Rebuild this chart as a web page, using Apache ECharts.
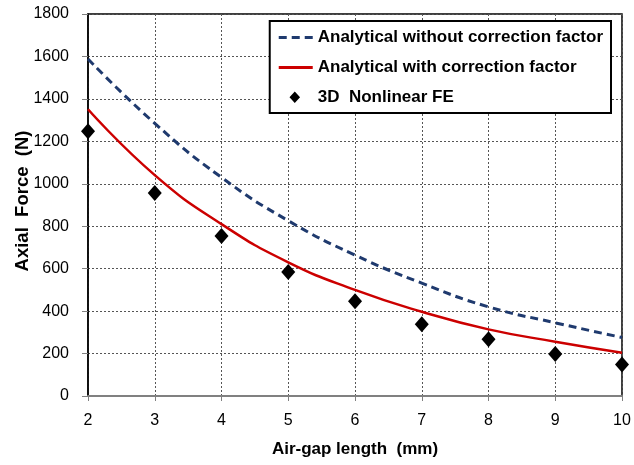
<!DOCTYPE html>
<html><head><meta charset="utf-8">
<script src="https://cdn.jsdelivr.net/npm/echarts@6/dist/echarts.min.js"></script>
<style>html,body{margin:0;padding:0;background:#fff}#c{width:634px;height:465px}</style>
</head><body><div id="c"></div>
<script>
var gaps = [2, 3, 4, 5, 6, 7, 8, 9, 10];
var withoutCorr = [1588, 1285, 1030, 826, 664, 532, 420, 345, 276];
var withCorr = [1351, 1041, 810, 630, 500, 397, 314, 256, 204];
var fe = [1247, 957, 754, 584, 446, 338, 267, 198, 149];
var names = ['Analytical without correction factor', 'Analytical with correction factor', '3D  Nonlinear FE'];
function pairs(v){ return gaps.map(function(g,i){ return [g, v[i]]; }); }
var font = 'Liberation Sans, Arial, sans-serif';
var chart = echarts.init(document.getElementById('c'));
chart.setOption({
  animation: false,
  grid: {left: 88, right: 12, top: 14, bottom: 69, outerBoundsMode: 'none', containLabel: false, show: true, borderColor: '#000', borderWidth: 1.5, backgroundColor: 'transparent'},
  legend: {
    orient: 'vertical', right: 23, top: 21, itemGap: 12, padding: [7, 8, 7, 9],
    backgroundColor: '#fff', borderColor: '#000', borderWidth: 2, borderRadius: 0,
    itemWidth: 34, itemHeight: 12,
    textStyle: {fontFamily: font, fontWeight: 'bold', fontSize: 17, lineHeight: 18, color: '#000'},
    data: [
      {name: names[0], icon: 'path://M0,5h8v3H0z M13,5h8v3h-8z M26,5h8v3h-8z M0,0h0.1v0.1h-0.1z M34,12h-0.1v-0.1h0.1z', itemStyle: {color: '#1f3a6e'}},
      {name: names[1], icon: 'path://M0,5h34v3H0z M0,0h0.1v0.1h-0.1z M34,12h-0.1v-0.1h0.1z', itemStyle: {color: '#cc0000'}},
      {name: names[2], icon: 'path://M16,0.5L21.5,6.5L16,12.5L10.5,6.5z M0,0h0.1v0.1h-0.1z M34,12h-0.1v-0.1h0.1z', itemStyle: {color: '#000'}}
    ]
  },
  xAxis: {
    type: 'value', min: 2, max: 10, interval: 1,
    name: 'Air-gap length  (mm)', nameLocation: 'middle', nameGap: 45, nameMoveOverlap: false,
    nameTextStyle: {fontFamily: font, fontWeight: 'bold', fontSize: 17, color: '#000'},
    axisLine: {lineStyle: {color: '#808080', width: 2}},
    axisTick: {show: true, length: 5, lineStyle: {color: '#808080'}},
    axisLabel: {fontFamily: font, fontSize: 16, color: '#000', margin: 17},
    splitLine: {show: true, lineStyle: {color: '#555', type: [2, 2], width: 1}}
  },
  yAxis: {
    type: 'value', min: 0, max: 1800, interval: 200,
    name: 'Axial  Force  (N)', nameLocation: 'middle', nameGap: 56, nameMoveOverlap: false,
    nameTextStyle: {fontFamily: font, fontWeight: 'bold', fontSize: 18.5, color: '#000', padding: [0, 0, 0, 8]},
    axisLine: {show: true, lineStyle: {color: '#000', width: 1.5}},
    axisTick: {show: true, length: 6, lineStyle: {color: '#808080'}},
    axisLabel: {fontFamily: font, fontSize: 16, color: '#000', margin: 19, formatter: function(v){ return String(v); }},
    splitLine: {show: true, lineStyle: {color: '#555', type: [2, 2], width: 1}}
  },
  series: [
    {name: names[0], type: 'line', smooth: true, showSymbol: false, symbol: 'none', data: pairs(withoutCorr),
     lineStyle: {color: '#1f3a6e', width: 3, type: [8, 5]}, itemStyle: {color: '#1f3a6e'}},
    {name: names[1], type: 'line', smooth: true, showSymbol: false, symbol: 'none', data: pairs(withCorr),
     lineStyle: {color: '#cc0000', width: 2.5}, itemStyle: {color: '#cc0000'}},
    {name: names[2], type: 'scatter', symbol: 'diamond', symbolSize: [14, 16], data: pairs(fe),
     itemStyle: {color: '#000', opacity: 1}}
  ]
});
</script></body></html>
